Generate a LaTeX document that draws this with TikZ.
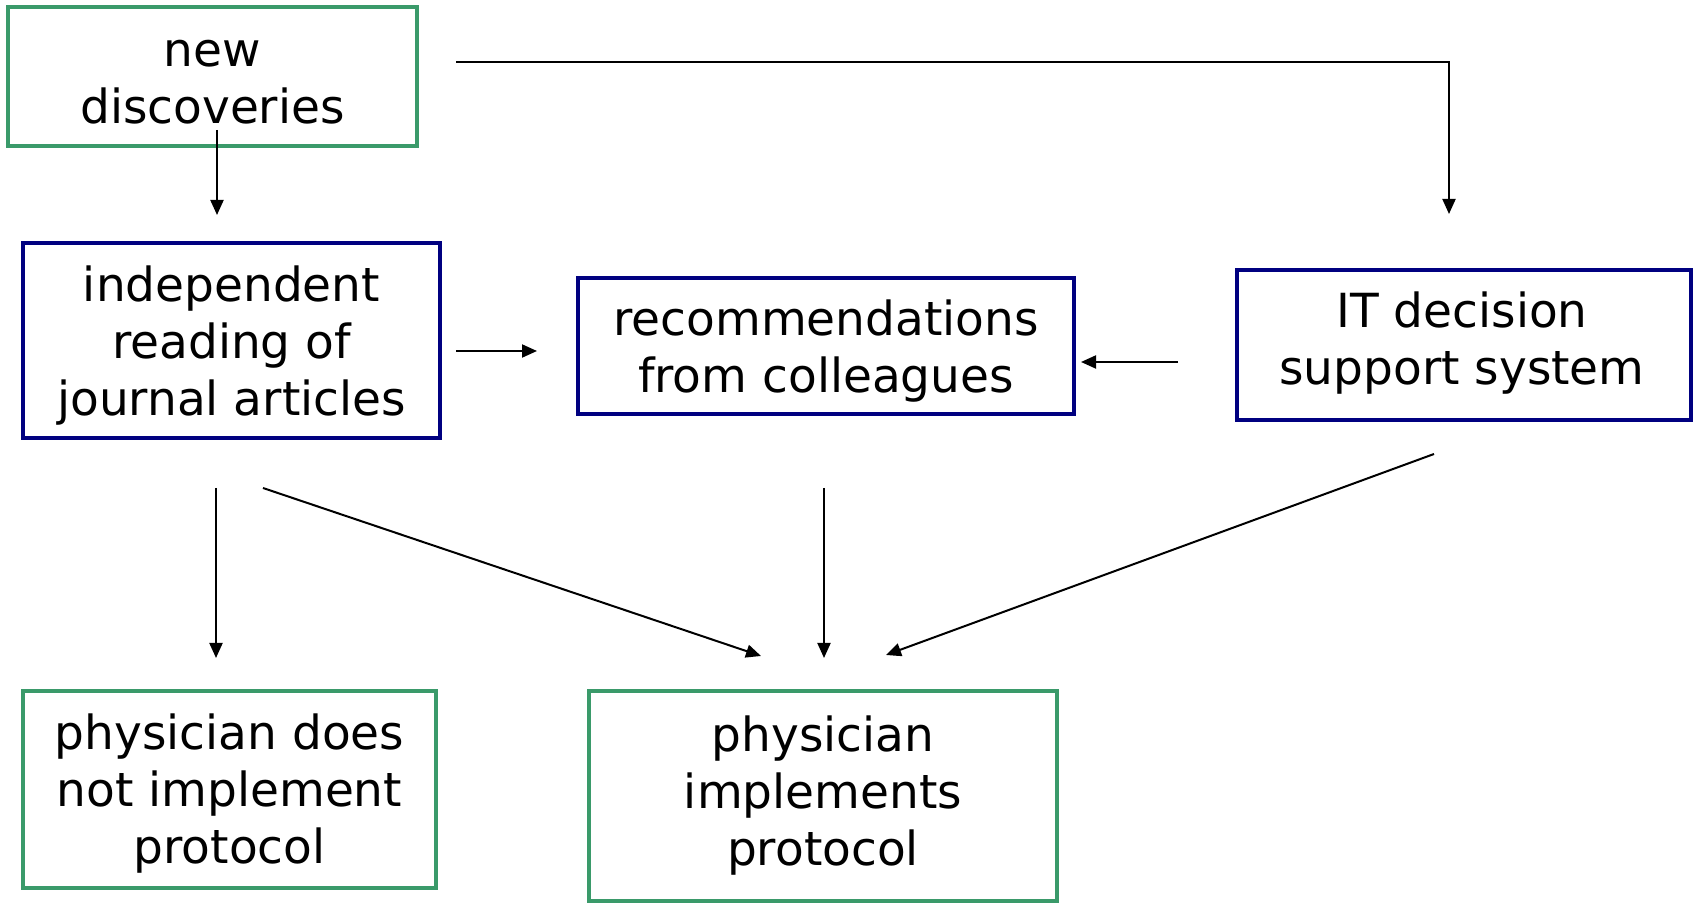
\documentclass[tikz,border=0pt]{standalone}
\usepackage{fontspec}
\setmainfont{DejaVu Sans}
\usetikzlibrary{arrows.meta}
\definecolor{boxgreen}{RGB}{58,154,106}
\definecolor{boxblue}{RGB}{0,0,128}
\tikzset{
  px/.style={x=0.5pt,y=-0.5pt},
  gbox/.style={draw=boxgreen,line width=2pt,inner sep=0pt},
  bbox/.style={draw=boxblue,line width=2pt,inner sep=0pt},
  txt/.style={align=center,inner sep=0pt,font=\fontsize{23.5}{28.5}\selectfont},
  conn/.style={line width=1pt,-{Triangle[length=7.5pt,width=6.5pt]}}
}
\begin{document}
\begin{tikzpicture}[px]
\useasboundingbox (0,0) rectangle (1694,903);
\node[gbox,minimum width=204.5pt,minimum height=69.5pt] (nd) at (212.5,76.5) {};
\node[txt] (ndt) at (212.5,82) {new\\discoveries};
\node[bbox,minimum width=208.5pt,minimum height=97.5pt] (ind) at (231.5,340.5) {};
\node[txt] (indt) at (231.5,346) {independent\\reading of\\journal articles};
\node[bbox,minimum width=248pt,minimum height=68pt] (rec) at (826,346) {};
\node[txt] (rect) at (826,351) {recommendations\\from colleagues};
\node[bbox,minimum width=227pt,minimum height=75pt] (it) at (1464,345) {};
\node[txt] (itt) at (1462,343) {IT decision\\support system};
\node[gbox,minimum width=206.5pt,minimum height=98.5pt] (not) at (229.5,789.5) {};
\node[txt] (nott) at (229.5,794) {physician does\\not implement\\protocol};
\node[gbox,minimum width=234pt,minimum height=105pt] (imp) at (823,796) {};
\node[txt] (impt) at (823,796) {physician\\implements\\protocol};
% connector end points
\coordinate (a1s) at (217,130);
\coordinate (a1e) at (217,215);
\coordinate (a2s) at (456,62);
\coordinate (a2e) at (1449,214);
\coordinate (a3s) at (456,351);
\coordinate (a3e) at (537,351);
\coordinate (a4s) at (1178,362);
\coordinate (a4e) at (1081,362);
\coordinate (a5s) at (216,488);
\coordinate (a5e) at (216,658);
\coordinate (a6s) at (263,488);
\coordinate (a6e) at (761,656);
\coordinate (a7s) at (824,488);
\coordinate (a7e) at (824,658);
\coordinate (a8s) at (1434,454);
\coordinate (a8e) at (886,655);
\draw[conn] (a1s) -- (a1e);
\draw[conn] (a2s) -| (a2e);
\draw[conn] (a3s) -- (a3e);
\draw[conn] (a4s) -- (a4e);
\draw[conn] (a5s) -- (a5e);
\draw[conn] (a6s) -- (a6e);
\draw[conn] (a7s) -- (a7e);
\draw[conn] (a8s) -- (a8e);
\end{tikzpicture}
\end{document}
